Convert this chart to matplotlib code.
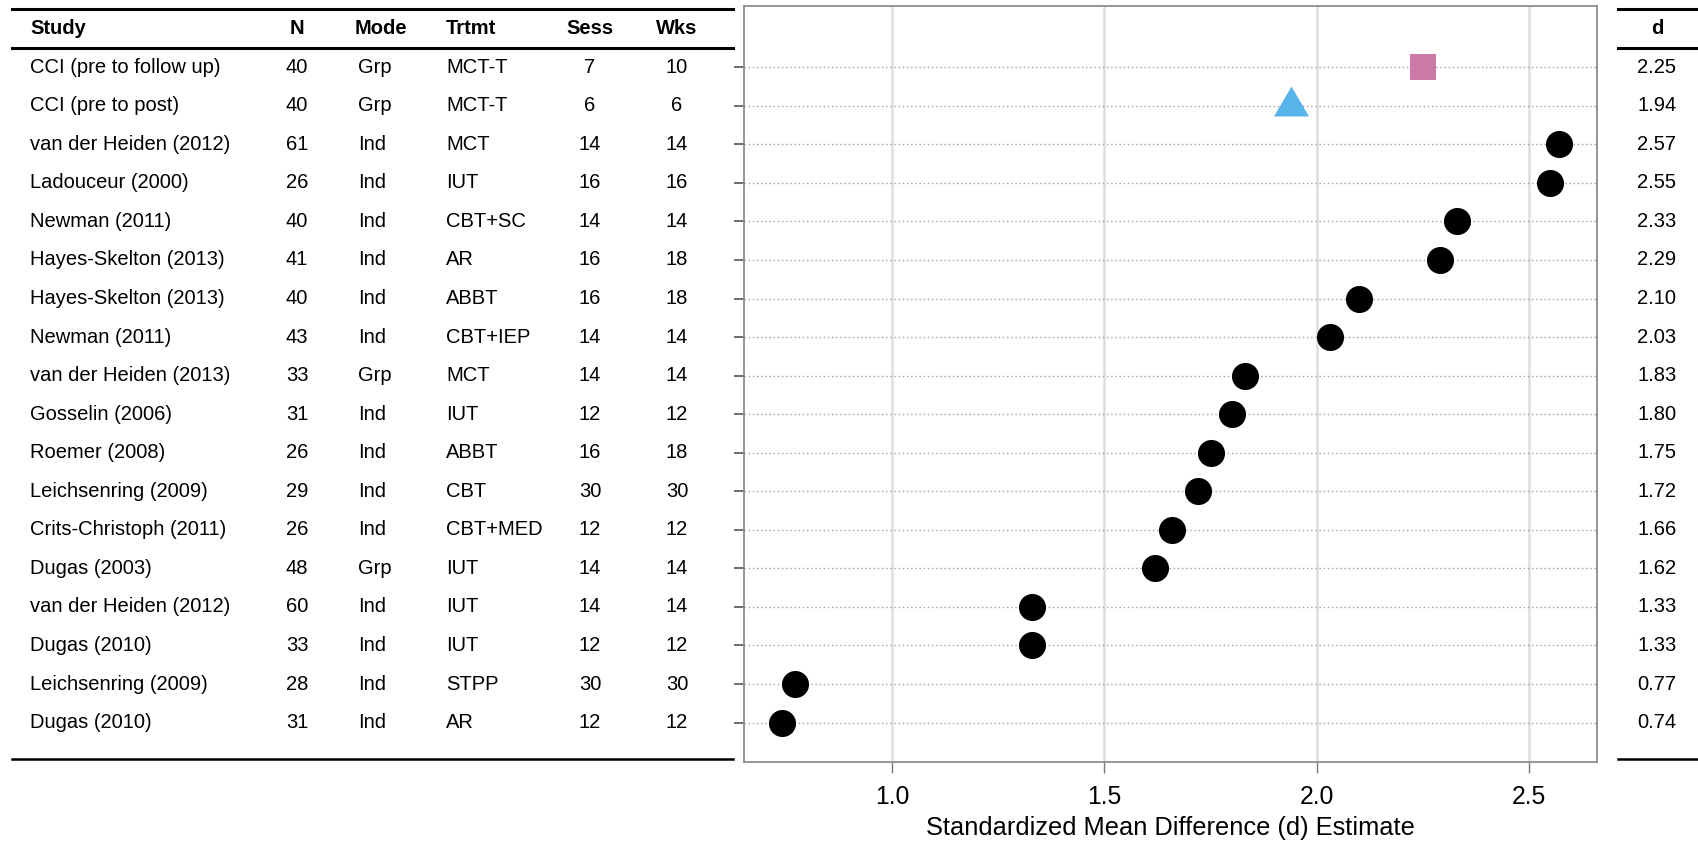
import matplotlib
matplotlib.use("Agg")
import matplotlib.pyplot as plt
from matplotlib.transforms import blended_transform_factory
from matplotlib.lines import Line2D

plt.rcParams['font.family'] = ['Liberation Sans', 'DejaVu Sans']

studies = ["CCI (pre to follow up)", "CCI (pre to post)", "van der Heiden (2012)",
           "Ladouceur (2000)", "Newman (2011)", "Hayes-Skelton (2013)",
           "Hayes-Skelton (2013)", "Newman (2011)", "van der Heiden (2013)",
           "Gosselin (2006)", "Roemer (2008)", "Leichsenring (2009)",
           "Crits-Christoph (2011)", "Dugas (2003)", "van der Heiden (2012)",
           "Dugas (2010)", "Leichsenring (2009)", "Dugas (2010)"]
n_vals = [40, 40, 61, 26, 40, 41, 40, 43, 33, 31, 26, 29, 26, 48, 60, 33, 28, 31]
modes = ["Grp", "Grp", "Ind", "Ind", "Ind", "Ind", "Ind", "Ind", "Grp", "Ind",
         "Ind", "Ind", "Ind", "Grp", "Ind", "Ind", "Ind", "Ind"]
treatments = ["MCT-T", "MCT-T", "MCT", "IUT", "CBT+SC", "AR", "ABBT", "CBT+IEP",
              "MCT", "IUT", "ABBT", "CBT", "CBT+MED", "IUT", "IUT", "IUT", "STPP", "AR"]
sessions = [7, 6, 14, 16, 14, 16, 16, 14, 14, 12, 16, 30, 12, 14, 14, 12, 30, 12]
weeks = [10, 6, 14, 16, 14, 18, 18, 14, 14, 12, 18, 30, 12, 14, 14, 12, 30, 12]
d_vals = [2.25, 1.94, 2.57, 2.55, 2.33, 2.29, 2.10, 2.03, 1.83, 1.80, 1.75, 1.72,
          1.66, 1.62, 1.33, 1.33, 0.77, 0.74]
groups = ["follow", "post"] + ["study"] * 16
x_ticks = [1.0, 1.5, 2.0, 2.5]
x_label = "Standardized Mean Difference (d) Estimate"

W, H = 1698, 843
fig = plt.figure(figsize=(W / 100, H / 100), dpi=100)
L, R, T, B = 744, 1597, 5.7, 761.5
ax = fig.add_axes([L / W, 1 - B / H, (R - L) / W, (B - T) / H])

rows = list(range(1, len(studies) + 1))
# row r sits at pixel 67.2 + (r-1)*38.55
ax.set_ylim(1 + (B - 67.2) / 38.55, 1 + (T - 67.2) / 38.55)
ax.set_xlim(0.651, 2.66)

for x in x_ticks:
    ax.axvline(x, color="#dedede", lw=1.8, zorder=0)
for r in rows:
    ax.axhline(r, color="#a0a0a0", lw=1.0, ls=(0, (1, 2)), zorder=1)

tri = [(0, 20), (-17.5, -10), (17.5, -10)]
style = {"follow": dict(marker="s", color="#CC79A7", ms=19),
         "post": dict(marker=tri, color="#56B4E9", ms=28.8),
         "study": dict(marker="o", color="black", ms=19.5)}
for g in ["study", "post", "follow"]:
    xs = [d for d, gg in zip(d_vals, groups) if gg == g]
    ys = [r for r, gg in zip(rows, groups) if gg == g]
    ax.plot(xs, ys, ls="none", marker=style[g]["marker"], color=style[g]["color"],
            ms=style[g]["ms"], mew=0, zorder=3)

ax.set_xticks(x_ticks)
ax.set_xticklabels([f"{v:.1f}" for v in x_ticks], fontsize=17.8)
ax.tick_params(axis="x", length=8, width=1.0, color="#777777", direction="out", pad=9)
ax.set_yticks(rows)
ax.set_yticklabels([])
ax.tick_params(axis="y", length=7.5, width=1.2, color="#555555", direction="out")
for s in ax.spines.values():
    s.set_color("#8c8c8c")
    s.set_linewidth(1.3)
fig.text((L + R) / 2 / W, 1 - 828 / H, x_label, ha="center", va="center", fontsize=18.3)

tr = blended_transform_factory(fig.transFigure, ax.transData)
fs = 14.5
cols = [("Study", 30, "left", studies),
        ("N", 297, "center", n_vals),
        ("Mode", 358, "left", modes),
        ("Trtmt", 446, "left", treatments),
        ("Sess", 590, "center", sessions),
        ("Wks", 677, "center", weeks)]
for head, xp, ha, vals in cols:
    if head == "Mode":
        fig.text(381 / W, 0, head, transform=tr, ha="center", va="center",
                 fontsize=fs, fontweight="bold")
    else:
        fig.text(xp / W, 0, head, transform=tr, ha=ha, va="center",
                 fontsize=fs, fontweight="bold")
    for r, v in zip(rows, vals):
        fig.text(xp / W, r, str(v), transform=tr, ha=ha, va="center", fontsize=fs)

fig.text(1657 / W, 0, "d", transform=tr, ha="center", va="center",
         fontsize=fs, fontweight="bold")
for r, v in zip(rows, d_vals):
    fig.text(1657 / W, r, f"{v:.2f}", transform=tr, ha="center", va="center",
             fontsize=fs)

top_r = 1 + (9.3 - 67.2) / 38.55
head_r = 1 + (48.3 - 67.2) / 38.55
bot_r = 1 + (758.5 - 67.2) / 38.55
for (x0, x1) in [(12 / W, 733 / W), (1618 / W, 1.0)]:
    fig.add_artist(Line2D([x0, x1], [top_r, top_r], transform=tr, color="black", lw=2.2))
    fig.add_artist(Line2D([x0, x1], [head_r, head_r], transform=tr, color="black", lw=2.2))
    fig.add_artist(Line2D([x0, x1], [bot_r, bot_r], transform=tr, color="black", lw=1.8))

fig.savefig("out.png", dpi=100)
